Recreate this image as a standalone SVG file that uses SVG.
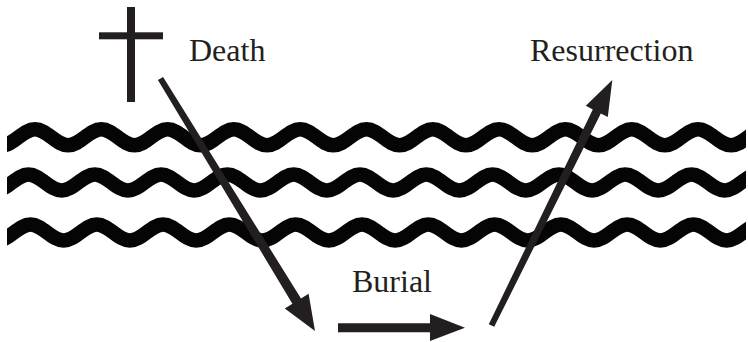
<svg xmlns="http://www.w3.org/2000/svg" xmlns:xlink="http://www.w3.org/1999/xlink" width="748" height="342" viewBox="0 0 748 342">
  <style>
    .wave { fill: none; stroke: #050505; stroke-width: 14.5; }
    .ink { fill: #231f20; }
    .label { font-family: "Liberation Serif", "Times New Roman", serif; font-size: 32px; fill: #231f20; }
  </style>
  <defs>
    <path id="wavePath" d="M0,-8 c12.05,0 21.1,16 33.15,16 s21.1,-16 33.15,-16 s21.1,16 33.15,16 s21.1,-16 33.15,-16 s21.1,16 33.15,16 s21.1,-16 33.15,-16 s21.1,16 33.15,16 s21.1,-16 33.15,-16 s21.1,16 33.15,16 s21.1,-16 33.15,-16 s21.1,16 33.15,16 s21.1,-16 33.15,-16 s21.1,16 33.15,16 s21.1,-16 33.15,-16 s21.1,16 33.15,16 s21.1,-16 33.15,-16 s21.1,16 33.15,16 s21.1,-16 33.15,-16 s21.1,16 33.15,16 s21.1,-16 33.15,-16 s21.1,16 33.15,16 s21.1,-16 33.15,-16 s21.1,16 33.15,16 s21.1,-16 33.15,-16 s21.1,16 33.15,16 s21.1,-16 33.15,-16"/>
    <clipPath id="waveClip">
      <rect x="7" y="100" width="739" height="170"/>
    </clipPath>
  </defs>

  <rect width="748" height="342" fill="#ffffff"/>

  <g id="cross" class="ink">
    <rect x="127" y="7" width="8" height="95"/>
    <rect x="99" y="32.3" width="64" height="7"/>
  </g>

  <g id="waves" clip-path="url(#waveClip)">
    <use xlink:href="#wavePath" href="#wavePath" class="wave" transform="translate(-31.3,137.3)"/>
    <use xlink:href="#wavePath" href="#wavePath" class="wave" transform="translate(-37.8,182.5)"/>
    <use xlink:href="#wavePath" href="#wavePath" class="wave" transform="translate(-35.8,232.5)"/>
  </g>

  <g id="connectors" class="ink">
    <polygon id="arrow-death" points="163.1,76.9 301,298.5 308.6,293.8 315,331 284.8,308.4 292.4,303.7 157.9,80.1"/>
    <polygon id="arrow-burial" points="338,323.3 430,323.3 430,314 465,327.8 430,341 430,332.3 338,332.3"/>
    <polygon id="arrow-resurrection" points="494.2,326.8 600.8,113.4 607.8,116.9 612.3,80 585.8,105.8 592.8,109.4 488.8,324.2"/>
  </g>

  <g id="death-label"><text class="label" x="189" y="61">Death</text></g>
  <g id="burial-label"><text class="label" x="352" y="292">Burial</text></g>
  <g id="resurrection-label"><text class="label" x="530" y="61">Resurrection</text></g>
</svg>
